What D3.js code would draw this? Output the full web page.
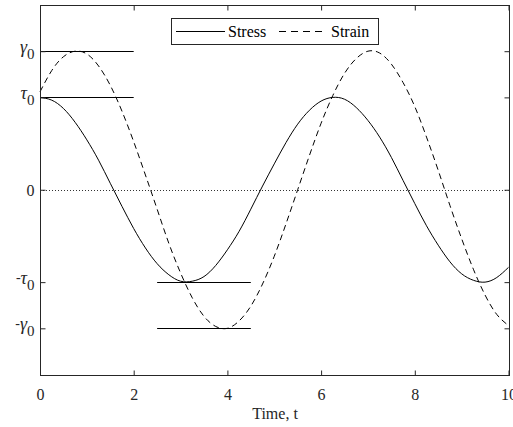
<!DOCTYPE html>
<html>
<head>
<meta charset="utf-8">
<script src="https://cdn.jsdelivr.net/npm/d3@7"></script>
<style>
  html, body { margin: 0; padding: 0; background: #fff; }
  svg { display: block; }
</style>
</head>
<body>
<svg id="chart" width="513" height="427"></svg>
<script>
// Time samples
const time = [0, 0.25, 0.5, 0.75, 1, 1.25, 1.5, 1.75, 2, 2.25, 2.5, 2.75, 3, 3.25, 3.5, 3.75,
  4, 4.25, 4.5, 4.75, 5, 5.25, 5.5, 5.75, 6, 6.25, 6.5, 6.75, 7, 7.25, 7.5, 7.75,
  8, 8.25, 8.5, 8.75, 9, 9.25, 9.5, 9.75, 10];
// Stress (amplitude tau0 = 1)
const stress = [1.00, 0.97, 0.88, 0.73, 0.54, 0.32, 0.07, -0.18, -0.42, -0.63, -0.80, -0.92, -0.99, -0.99, -0.94, -0.82,
  -0.65, -0.45, -0.21, 0.04, 0.28, 0.51, 0.71, 0.86, 0.96, 1.00, 0.98, 0.89, 0.75, 0.57, 0.35, 0.10,
  -0.15, -0.39, -0.60, -0.78, -0.91, -0.98, -1.00, -0.95, -0.84];
// Strain (amplitude gamma0 = 1.5, lagging the stress)
const strain = [1.06, 1.29, 1.44, 1.50, 1.47, 1.34, 1.13, 0.85, 0.52, 0.16, -0.21, -0.58, -0.90, -1.17, -1.37, -1.48,
  -1.50, -1.42, -1.26, -1.02, -0.72, -0.37, 0.00, 0.37, 0.72, 1.02, 1.26, 1.42, 1.50, 1.48, 1.36, 1.16,
  0.90, 0.57, 0.21, -0.17, -0.53, -0.86, -1.14, -1.35, -1.47];

// Axis ticks
const xTicks = [0, 2, 4, 6, 8, 10];
const yTickValues = [-1.5, -1, 0, 1, 1.5];
const yTickLabels = [["-", "γ", "0"], ["-", "τ", "0"], ["", "0", ""], ["", "τ", "0"], ["", "γ", "0"]];

// Amplitude guide segments: [x0, x1, y]
const guideLines = [[0, 2, 1.5], [0, 2, 1], [2.5, 4.5, -1], [2.5, 4.5, -1.5]];

const legendNames = ["Stress", "Strain"];

const FONT = "Liberation Serif";

const svg = d3.select("#chart");
const W = 513, H = 427;
const margin = { left: 40, top: 5, right: W - 508.5, bottom: H - 374.5 };

const x = d3.scaleLinear().domain([0, 10]).range([margin.left, W - margin.right]);
const y = d3.scaleLinear().domain([-2, 2]).range([H - margin.bottom, margin.top]);

const axisColor = "#262626";
const tickLen = 5;

// Zero reference line (dotted)
svg.append("line")
  .attr("x1", x(0)).attr("x2", x(10))
  .attr("y1", Math.round(y(0)) + 0.5).attr("y2", Math.round(y(0)) + 0.5)
  .attr("stroke", "#333").attr("stroke-width", 1)
  .attr("stroke-dasharray", "1,2");

// Amplitude guides
svg.selectAll("line.guide").data(guideLines).join("line")
  .attr("class", "guide")
  .attr("x1", d => x(d[0])).attr("x2", d => x(d[1]))
  .attr("y1", d => Math.round(y(d[2])) + 0.5).attr("y2", d => Math.round(y(d[2])) + 0.5)
  .attr("stroke", "#000").attr("stroke-width", 1);

// Curves
const line = (vals) => d3.line()
  .x((d, i) => x(time[i]))
  .y(d => y(d))
  .curve(d3.curveNatural)(vals);

svg.append("path").attr("d", line(stress))
  .attr("fill", "none").attr("stroke", "#000").attr("stroke-width", 1);
svg.append("path").attr("d", line(strain))
  .attr("fill", "none").attr("stroke", "#000").attr("stroke-width", 1)
  .attr("stroke-dasharray", "6,4");

// Frame
const x0 = Math.round(x(0)) + 0.5, x1 = Math.round(x(10)) + 0.5;
const yTop = Math.round(y(2)) + 0.5, yBot = Math.round(y(-2)) + 0.5;
svg.append("rect")
  .attr("x", x0).attr("y", yTop)
  .attr("width", x1 - x0).attr("height", yBot - yTop)
  .attr("fill", "none").attr("stroke", axisColor).attr("stroke-width", 1);

// X axis ticks (bottom and top, inward)
const bottomAxis = svg.append("g").attr("transform", `translate(0,${yBot})`)
  .call(d3.axisBottom(x).tickValues(xTicks).tickSizeInner(-tickLen).tickSizeOuter(0).tickPadding(13));
bottomAxis.attr("font-family", FONT).attr("font-size", 16);
bottomAxis.select(".domain").remove();
bottomAxis.selectAll(".tick line").attr("stroke", axisColor);
bottomAxis.selectAll(".tick text").attr("fill", "#262626").attr("font-family", FONT);

const topAxis = svg.append("g").attr("transform", `translate(0,${yTop})`)
  .call(d3.axisTop(x).tickValues(xTicks).tickSizeInner(-tickLen).tickSizeOuter(0).tickFormat(""));
topAxis.select(".domain").remove();
topAxis.selectAll(".tick line").attr("stroke", axisColor);

// Y axis ticks (left with symbolic labels, right inward)
const leftAxis = svg.append("g").attr("transform", `translate(${x0},0)`)
  .call(d3.axisLeft(y).tickValues(yTickValues).tickSizeInner(-tickLen).tickSizeOuter(0).tickFormat(""));
leftAxis.select(".domain").remove();
leftAxis.selectAll(".tick line").attr("stroke", axisColor);

const rightAxis = svg.append("g").attr("transform", `translate(${x1},0)`)
  .call(d3.axisRight(y).tickValues(yTickValues).tickSizeInner(-tickLen).tickSizeOuter(0).tickFormat(""));
rightAxis.select(".domain").remove();
rightAxis.selectAll(".tick line").attr("stroke", axisColor);

// Symbolic y tick labels
yTickValues.forEach((v, i) => {
  const [pre, sym, sub] = yTickLabels[i];
  const t = svg.append("text")
    .attr("x", x0 - 6).attr("y", y(v) + (sub ? 2 : 6))
    .attr("text-anchor", "end")
    .attr("fill", "#262626")
    .attr("font-family", FONT)
    .attr("font-size", 16);
  if (pre) t.append("tspan").attr("font-size", 14).attr("dy", -2).text(pre);
  t.append("tspan").attr("dy", pre ? 2 : 0).attr("font-size", sub ? 18 : 16)
    .text(sym).attr("font-style", sub ? "italic" : "normal");
  if (sub) t.append("tspan").attr("dy", 6).attr("font-size", 15).text(sub);
});

// X axis label
svg.append("text")
  .attr("x", (x0 + x1) / 2).attr("y", 419)
  .attr("text-anchor", "middle")
  .attr("fill", "#262626")
  .attr("font-family", FONT)
  .attr("font-size", 16)
  .text("Time, t");

// Legend
const lg = svg.append("g");
lg.append("rect")
  .attr("x", 171.5).attr("y", 18.5).attr("width", 207).attr("height", 26)
  .attr("fill", "#fff").attr("stroke", axisColor).attr("stroke-width", 1);
const legendItems = [
  { name: legendNames[0], x1: 176, x2: 225, tx: 228, dash: null },
  { name: legendNames[1], x1: 279, x2: 326, tx: 331, dash: "7,5" }
];
legendItems.forEach(it => {
  lg.append("line")
    .attr("x1", it.x1).attr("x2", it.x2).attr("y1", 31.5).attr("y2", 31.5)
    .attr("stroke", "#000").attr("stroke-width", 1)
    .attr("stroke-dasharray", it.dash);
  lg.append("text")
    .attr("x", it.tx).attr("y", 37)
    .attr("fill", "#000")
    .attr("font-family", FONT)
    .attr("font-size", 16)
    .text(it.name);
});
</script>
</body>
</html>
